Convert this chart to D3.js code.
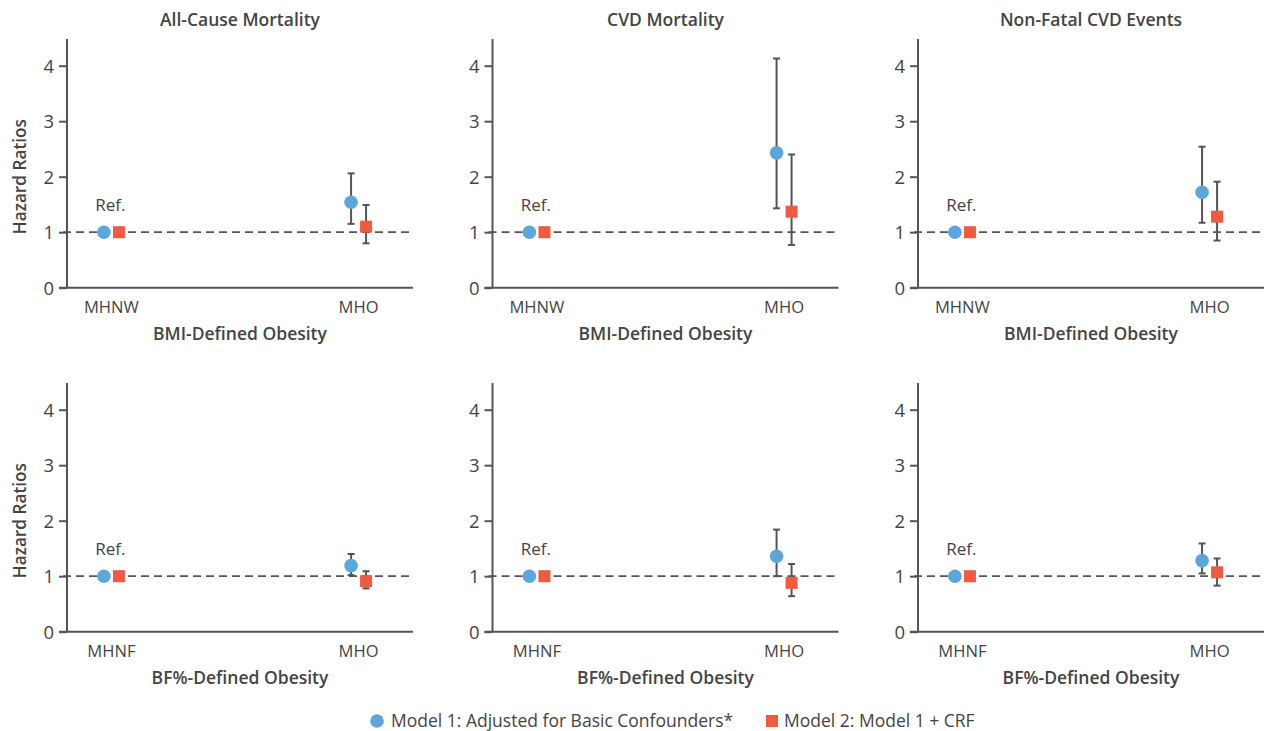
<!DOCTYPE html>
<html>
<head>
<meta charset="utf-8">
<script src="https://cdn.jsdelivr.net/npm/d3@7"></script>
<style>
  body { margin: 0; background: #fff; }
  svg text { font-family: "Open Sans", sans-serif; fill: #444; }
</style>
</head>
<body>
<svg id="chart" width="1271" height="731"></svg>
<script>
// panel titles and axis labels
const outcomes = ["All-Cause Mortality", "CVD Mortality", "Non-Fatal CVD Events"];
const rowTitles = ["BMI-Defined Obesity", "BF%-Defined Obesity"];
const refCats = ["MHNW", "MHNF"];
const yTicks = [0, 1, 2, 3, 4];
const seriesNames = ["Model 1: Adjusted for Basic Confounders*", "Model 2: Model 1 + CRF"];

// hazard ratios for MHO, [row][outcome] -> [hr, lower, upper]
const model1 = [
  [[1.54, 1.15, 2.06], [2.43, 1.43, 4.13], [1.72, 1.17, 2.54]],
  [[1.19, 1.02, 1.40], [1.36, 1.00, 1.84], [1.28, 1.05, 1.59]]
];
const model2 = [
  [[1.10, 0.80, 1.49], [1.37, 0.77, 2.40], [1.28, 0.85, 1.91]],
  [[0.91, 0.78, 1.09], [0.88, 0.64, 1.22], [1.07, 0.83, 1.32]]
];
const refValue = 1;

const blue = "#5ba7dd", red = "#ef5b42", axisCol = "#555";
const font = "'Open Sans', sans-serif";

const svg = d3.select("#chart");

const panelW = 346, panelH = 222;   // 0..4 span
const colX = [67, 492.5, 918];
const rowY = [287.7, 631.7];       // y of value 0

outcomes.forEach((title, c) => {
  rowTitles.forEach((rt, r) => {
    const g = svg.append("g").attr("transform", `translate(${colX[c]},${rowY[r]})`);

    const y = d3.scaleLinear().domain([0, 4]).range([0, -panelH]);
    const x = d3.scalePoint().domain([refCats[r], "MHO"]).range([-5, panelW - 5]).padding(0.2);

    // y axis
    const yAxis = g.append("g").call(d3.axisLeft(y).tickValues(yTicks).tickSize(8).tickPadding(5).tickFormat(d3.format("d")));
    yAxis.select(".domain").remove();
    yAxis.selectAll("line").attr("stroke", axisCol).attr("stroke-width", 2);
    yAxis.selectAll("text").attr("font-size", 18.5).attr("fill", "#444").attr("dy", "0.36em")
      .style("font-family", font);
    g.append("line").attr("x1", 0).attr("x2", 0).attr("y1", y(0)).attr("y2", y(4.48))
      .attr("stroke", axisCol).attr("stroke-width", 2);
    g.append("line").attr("x1", -8).attr("x2", panelW).attr("y1", y(0)).attr("y2", y(0))
      .attr("stroke", axisCol).attr("stroke-width", 2);

    // reference dashed line
    g.append("line").attr("x1", -4).attr("x2", panelW).attr("y1", y(refValue)).attr("y2", y(refValue))
      .attr("stroke", axisCol).attr("stroke-width", 1.8).attr("stroke-dasharray", "8,5");

    // category labels
    x.domain().forEach(d => {
      g.append("text").attr("x", x(d)).attr("y", 25).attr("text-anchor", "middle")
        .attr("font-size", 16.6).text(d);
    });
    g.append("text").attr("x", panelW / 2).attr("y", 52).attr("text-anchor", "middle")
      .attr("font-size", 17.5).attr("font-weight", 600).text(rt);

    if (r === 0) {
      g.append("text").attr("x", panelW / 2).attr("y", -262).attr("text-anchor", "middle")
        .attr("font-size", 17.5).attr("font-weight", 600).text(title);
    }
    if (c === 0) {
      g.append("text").attr("transform", `translate(-41,${y(2)}) rotate(-90)`)
        .attr("text-anchor", "middle").attr("font-size", 17.2).attr("font-weight", 600).text("Hazard Ratios");
    }

    g.append("text").attr("x", x(refCats[r]) - 1).attr("y", y(1.38)).attr("text-anchor", "middle")
      .attr("font-size", 17).text("Ref.");

    const off = 7.5;
    const pts = [
      { cat: refCats[r], v: [refValue], m: 0 },
      { cat: refCats[r], v: [refValue], m: 1 },
      { cat: "MHO", v: model1[r][c], m: 0 },
      { cat: "MHO", v: model2[r][c], m: 1 }
    ];

    // error bars
    pts.filter(p => p.v.length === 3).forEach(p => {
      const cx = x(p.cat) + (p.m === 0 ? -off : off);
      const eb = g.append("g").attr("stroke", axisCol).attr("stroke-width", 2);
      eb.append("line").attr("x1", cx).attr("x2", cx).attr("y1", y(p.v[1])).attr("y2", y(p.v[2]));
      [p.v[1], p.v[2]].forEach(v => {
        eb.append("line").attr("x1", cx - 3.5).attr("x2", cx + 3.5).attr("y1", y(v)).attr("y2", y(v));
      });
    });

    // markers
    pts.forEach(p => {
      const cx = x(p.cat) + (p.m === 0 ? -off : off);
      if (p.m === 0) {
        g.append("circle").attr("cx", cx).attr("cy", y(p.v[0])).attr("r", 6.8).attr("fill", blue);
      } else {
        g.append("rect").attr("x", cx - 6).attr("y", y(p.v[0]) - 6).attr("width", 12).attr("height", 12).attr("fill", red);
      }
    });
  });
});

// legend
const leg = svg.append("g").attr("transform", "translate(0,721)");
leg.append("circle").attr("cx", 377).attr("cy", 0).attr("r", 6.8).attr("fill", blue);
leg.append("text").attr("x", 391).attr("y", 0).attr("dy", "0.35em").attr("font-size", 17.5).text(seriesNames[0]);
leg.append("rect").attr("x", 766).attr("y", -6).attr("width", 12).attr("height", 12).attr("fill", red);
leg.append("text").attr("x", 784).attr("y", 0).attr("dy", "0.35em").attr("font-size", 17.5).text(seriesNames[1]);
</script>
</body>
</html>
